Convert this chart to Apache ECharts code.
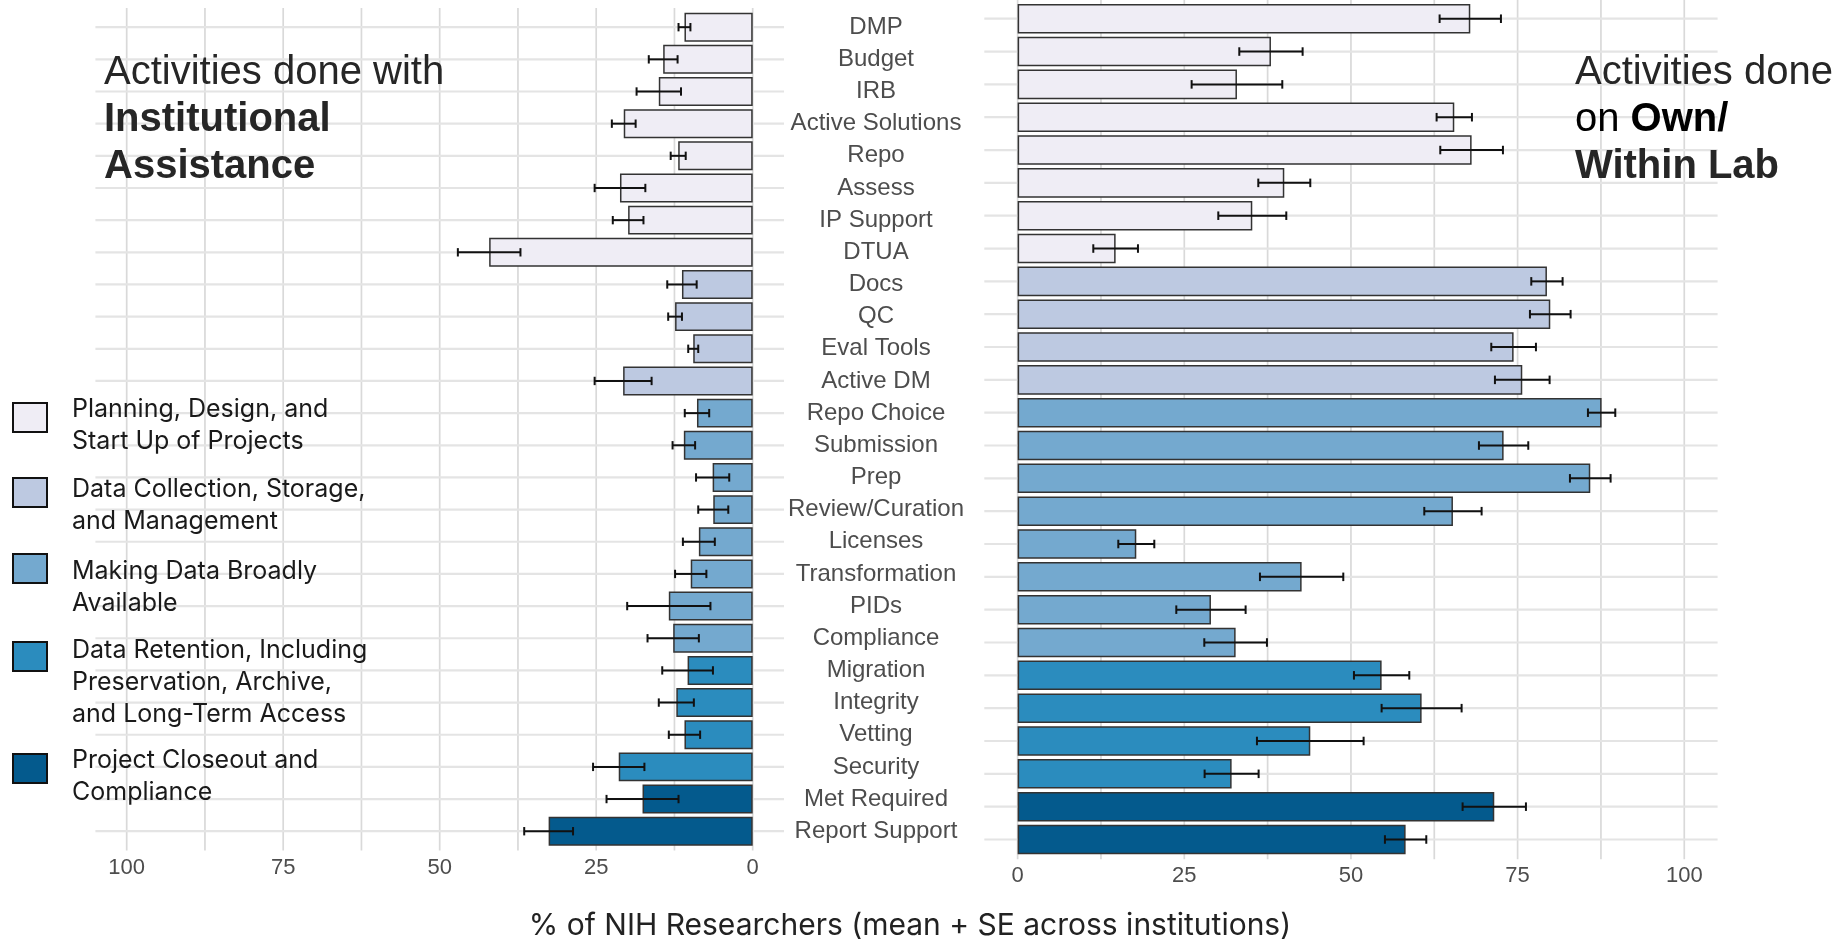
<!DOCTYPE html>
<html><head><meta charset="utf-8">
<script src="https://cdn.jsdelivr.net/npm/echarts@6/dist/echarts.min.js"></script>
<style>html,body{margin:0;padding:0;background:#fff}#c{width:1835px;height:941px}</style>
</head><body><div id="c"></div>
<script>
// ---------- data ----------
const categories = ['DMP','Budget','IRB','Active Solutions','Repo','Assess','IP Support','DTUA','Docs','QC','Eval Tools','Active DM','Repo Choice','Submission','Prep','Review/Curation','Licenses','Transformation','PIDs','Compliance','Migration','Integrity','Vetting','Security','Met Required','Report Support'];
const categoryGroup = [0,0,0,0,0,0,0,0,1,1,1,1,2,2,2,2,2,2,2,2,3,3,3,3,4,4];
const groupNames = ['Planning, Design, and\nStart Up of Projects','Data Collection, Storage,\nand Management','Making Data Broadly\nAvailable','Data Retention, Including\nPreservation, Archive,\nand Long-Term Access','Project Closeout and\nCompliance'];
const groupColors = ['#efedf5','#bdc9e1','#74a9cf','#2b8cbe','#045a8d'];
const institutionalMean = [10.9,14.3,15.0,20.6,11.9,21.2,19.9,42.1,11.3,12.4,9.5,20.7,8.9,11.0,6.4,6.3,8.6,9.9,13.4,12.7,10.4,12.2,10.9,21.4,17.6,32.6];
const institutionalSE   = [0.95,2.3,3.55,1.9,1.2,4.05,2.45,5.0,2.35,1.1,0.8,4.55,1.95,1.8,2.65,2.4,2.55,2.5,6.65,4.1,4.05,2.8,2.5,4.1,5.75,3.9];
const ownLabMean = [67.9,38.0,32.9,65.5,68.1,40.0,35.2,14.7,79.4,79.9,74.4,75.7,87.6,72.9,85.9,65.3,17.8,42.6,29.0,32.7,54.6,60.6,43.9,32.1,71.5,58.2];
const ownLabSE   = [4.6,4.75,6.8,2.65,4.7,3.9,5.1,3.35,2.35,3.05,3.35,4.1,2.05,3.7,3.05,4.3,2.7,6.25,5.2,4.7,4.15,6.0,8.0,4.05,4.75,3.1];
const xTickLabels = [0,25,50,75,100];
const xGridValues = [0,12.5,25,37.5,50,62.5,75,87.5,100];
const axisTitle = '% of NIH Researchers (mean + SE across institutions)';

// ---------- layout ----------
const SANS = "'Liberation Sans', Arial, sans-serif";
const LEG = "Inter, 'Noto Sans', sans-serif";
const legendBoxTop = [403, 478, 554, 642, 754];
const legendTextTop = [393, 473, 555, 634, 744];

const chart = echarts.init(document.getElementById('c'), null, {renderer: 'canvas'});

function barData(means) {
  return means.map((v, i) => ({value: v, itemStyle: {color: groupColors[categoryGroup[i]]}}));
}
function errData(means, se) {
  return means.map((v, i) => [v - se[i], i, v + se[i]]);
}
function vGridSeries(gi) {
  return {
    type: 'custom', xAxisIndex: gi, yAxisIndex: gi, silent: true, z: 0,
    data: xGridValues.map(v => [v, 0]),
    renderItem: (params, api) => {
      const cs = params.coordSys;
      const x = api.coord([api.value(0), 0])[0];
      const pad = api.size([0, 1])[1] * 0.1;
      return {type: 'line', shape: {x1: x, y1: cs.y - pad, x2: x, y2: cs.y + cs.height + pad},
        style: {stroke: '#d9d9d9', lineWidth: 1.7}};
    }
  };
}
function hGridSeries(gi) {
  return {
    type: 'custom', xAxisIndex: gi, yAxisIndex: gi, silent: true, z: 0,
    data: categories.map((c, i) => [0, i]),
    renderItem: (params, api) => {
      const cs = params.coordSys;
      const y = api.coord([0, api.value(1)])[1];
      return {type: 'line', shape: {x1: cs.x, y1: y, x2: cs.x + cs.width, y2: y},
        style: {stroke: '#e4e4e4', lineWidth: 2.2}};
    }
  };
}
function barSeries(gi, means) {
  return {
    type: 'bar', xAxisIndex: gi, yAxisIndex: gi, z: 2, barWidth: '90%',
    data: barData(means),
    itemStyle: {borderColor: '#333333', borderWidth: 1.5},
    emphasis: {disabled: true}
  };
}
function errSeries(gi, means, se) {
  return {
    type: 'custom', xAxisIndex: gi, yAxisIndex: gi, z: 3, silent: true,
    data: errData(means, se),
    encode: {x: [0, 2], y: 1},
    renderItem: (params, api) => {
      const yi = api.value(1);
      const p1 = api.coord([api.value(0), yi]);
      const p2 = api.coord([api.value(2), yi]);
      const h = api.size([0, 1])[1] * 0.13;
      const st = {stroke: '#111', lineWidth: 2};
      return {type: 'group', children: [
        {type: 'line', shape: {x1: p1[0], y1: p1[1], x2: p2[0], y2: p2[1]}, style: st},
        {type: 'line', shape: {x1: p1[0], y1: p1[1] - h, x2: p1[0], y2: p1[1] + h}, style: st},
        {type: 'line', shape: {x1: p2[0], y1: p2[1] - h, x2: p2[0], y2: p2[1] + h}, style: st}
      ]};
    }
  };
}
function xAxisDef(gi, inverse, margin) {
  return {
    gridIndex: gi, type: 'value', min: -5, max: 105, inverse: inverse,
    axisLine: {show: false}, axisTick: {show: false}, splitLine: {show: false},
    axisLabel: {customValues: xTickLabels, fontFamily: SANS, fontSize: 22, color: '#4d4d4d', margin: margin}
  };
}

const graphics = [];
const TF = "40px 'Liberation Sans', Arial";
const TFB = "bold 40px 'Liberation Sans', Arial";
// titles
graphics.push({type: 'text', x: 104, y: 73, z: 100, style: {text: 'Activities done with', font: TF, fill: '#262626', verticalAlign: 'middle'}});
graphics.push({type: 'text', x: 104, y: 120, z: 100, style: {text: 'Institutional', font: TFB, fill: '#262626', verticalAlign: 'middle'}});
graphics.push({type: 'text', x: 104, y: 167, z: 100, style: {text: 'Assistance', font: TFB, fill: '#262626', verticalAlign: 'middle'}});
graphics.push({type: 'text', x: 1575, y: 73, z: 100, style: {text: 'Activities done', font: TF, fill: '#262626', verticalAlign: 'middle'}});
graphics.push({type: 'text', x: 1575, y: 120, z: 100, style: {
  text: '{r|on }{b|Own/}', verticalAlign: 'middle',
  rich: {r: {fontFamily: SANS, fontSize: 40, color: '#262626'}, b: {fontFamily: SANS, fontSize: 40, fontWeight: 'bold', color: '#262626'}}}});
graphics.push({type: 'text', x: 1575, y: 167, z: 100, style: {text: 'Within Lab', font: TFB, fill: '#262626', verticalAlign: 'middle'}});
// legend
groupNames.forEach((name, g) => {
  graphics.push({type: 'rect', z: 100, shape: {x: 13, y: legendBoxTop[g], width: 34, height: 29},
    style: {fill: groupColors[g], stroke: '#111', lineWidth: 2}});
  graphics.push({type: 'text', x: 72, y: legendTextTop[g], z: 100,
    style: {text: name, font: '25px ' + LEG, fill: '#1a1a1a', lineHeight: 32, verticalAlign: 'top'}});
});
// x axis title
graphics.push({type: 'text', x: 910, y: 926, z: 100, style: {text: axisTitle, font: '30px ' + LEG, fill: '#222', align: 'center', verticalAlign: 'middle'}});

chart.setOption({
  animation: false,
  backgroundColor: '#ffffff',
  grid: [
    {left: 95.4, top: 11.1, width: 688.6, height: 836.2, outerBoundsMode: 'none'},
    {left: 984.3, top: 2.3, width: 733.3, height: 853.6, outerBoundsMode: 'none'}
  ],
  xAxis: [xAxisDef(0, true, 10), xAxisDef(1, false, 9)],
  yAxis: [
    {gridIndex: 0, type: 'category', data: categories, inverse: true, position: 'right',
     axisLine: {show: false}, axisTick: {show: false}, splitLine: {show: false},
     axisLabel: {interval: 0, align: 'center', margin: 92, fontFamily: SANS, fontSize: 24, color: '#4d4d4d'}},
    {gridIndex: 1, type: 'category', data: categories, inverse: true,
     axisLine: {show: false}, axisTick: {show: false}, splitLine: {show: false}, axisLabel: {show: false}}
  ],
  series: [
    vGridSeries(0), hGridSeries(0), barSeries(0, institutionalMean), errSeries(0, institutionalMean, institutionalSE),
    vGridSeries(1), hGridSeries(1), barSeries(1, ownLabMean), errSeries(1, ownLabMean, ownLabSE)
  ],
  graphic: {elements: graphics}
});
</script>
</body></html>
